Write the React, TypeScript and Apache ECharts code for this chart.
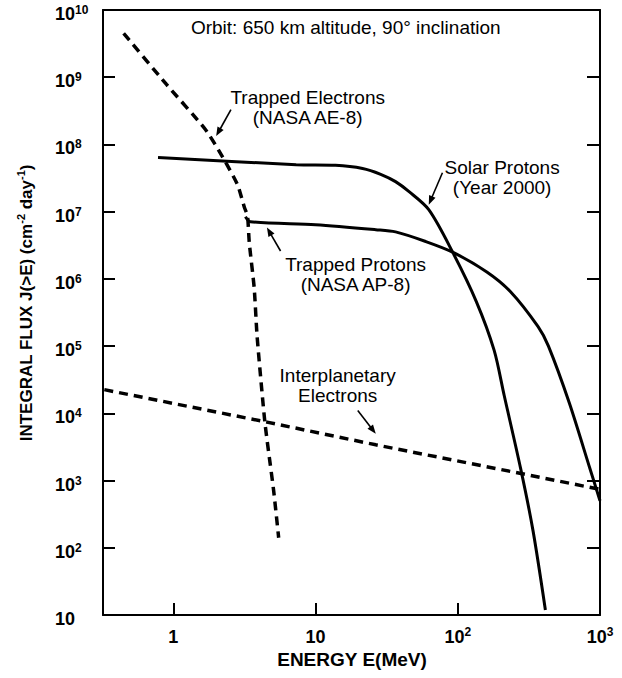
import React, { useEffect, useRef } from 'react';
import * as echarts from 'echarts';

const FONT = '"Liberation Sans", Arial, Helvetica, sans-serif';

// Tick values and labels ([base, exponent])
const xTickValues = [1, 10, 100, 1000];
const xTickLabels = [['1', ''], ['10', ''], ['10', '2'], ['10', '3']];
const yTickValues = [10, 1e2, 1e3, 1e4, 1e5, 1e6, 1e7, 1e8, 1e9, 1e10];
const yTickLabels = [
  ['10', ''], ['10', '2'], ['10', '3'], ['10', '4'], ['10', '5'],
  ['10', '6'], ['10', '7'], ['10', '8'], ['10', '9'], ['10', '10'],
];

// Trapped Electrons (NASA AE-8) — dashed
const trappedElectronsE = [0.447, 0.895, 1.68, 2.23, 2.83, 3.16, 3.32, 3.42, 3.7, 3.88, 4.4, 5.07, 5.5];
const trappedElectronsJ = [4.5e9, 7.8e8, 1.67e8, 6.4e7, 2.5e7, 1.15e7, 8.7e6, 3.4e6, 7.4e5, 1.4e5, 7.4e3, 710, 141];

// Solar Protons (Year 2000) — solid
const solarProtonsE = [0.78, 7.3, 13.8, 21.4, 28.7, 36.5, 45.2, 62.5, 92, 135, 180, 212, 277, 338, 413];
const solarProtonsJ = [6.4e7, 5.0e7, 4.9e7, 4.4e7, 3.6e7, 2.8e7, 2.0e7, 1.07e7, 2.5e6, 4.6e5, 8.7e4, 1.84e4, 1.49e3, 180, 11.9];

// Trapped Protons (NASA AP-8) — solid
const trappedProtonsE = [3.21, 3.48, 10, 26.5, 36.5, 59.5, 92, 160, 234, 367, 434, 607, 847, 1000];
const trappedProtonsJ = [8.4e6, 7.1e6, 6.4e6, 5.4e6, 5.0e6, 3.6e6, 2.5e6, 1.27e6, 6.5e5, 1.95e5, 1.0e5, 1.45e4, 1.54e3, 500];

// Interplanetary Electrons — dashed
const interplanetaryE = [0.327, 4.55, 26.5, 188, 1000];
const interplanetaryJ = [2.25e4, 7.4e3, 3.4e3, 1.5e3, 740];

// Annotations (data coordinates)
const annotationTexts = [
  'Orbit: 650 km altitude, 90° inclination',
  'Trapped Electrons\n(NASA AE-8)',
  'Solar Protons\n(Year 2000)',
  'Trapped Protons\n(NASA AP-8)',
  'Interplanetary\nElectrons',
];
const annotationE = [16.3, 8.8, 205, 19.1, 14.3];
const annotationJ = [5.5e9, 3.5e8, 3.2e7, 1.15e6, 2.6e4];

// Arrows: tail and head positions
const arrowTailE = [2.54, 78, 5.67, 19.8];
const arrowTailJ = [3.3e8, 3.8e7, 2.6e6, 1.1e4];
const arrowHeadE = [2.0, 62.5, 4.55, 26.5];
const arrowHeadJ = [1.33e8, 1.27e7, 5.8e6, 4.97e3];

const zip = (a: number[], b: number[]) => a.map((v, i) => [v, b[i]]);

const richX = {
  b: { fontSize: 18, fontWeight: 'bold', fontFamily: FONT, color: '#000', lineHeight: 22 },
  s: { fontSize: 12, fontWeight: 'bold', fontFamily: FONT, color: '#000', verticalAlign: 'top', lineHeight: 12 },
};
const richY = {
  b: { fontSize: 18, fontWeight: 'bold', fontFamily: FONT, color: '#000', lineHeight: 20 },
  s: { fontSize: 12, fontWeight: 'bold', fontFamily: FONT, color: '#000', verticalAlign: 'top', lineHeight: 10 },
};

const makeFormatter = (vals: number[], labels: string[][]) => (v: number) => {
  const lv = Math.log10(v);
  for (let i = 0; i < vals.length; i++) {
    if (Math.abs(Math.log10(vals[i]) - lv) < 1e-6) {
      const [b, e] = labels[i];
      return e ? `{b|${b}}{s|${e}}` : `{b|${b}}`;
    }
  }
  return '';
};

const axisLine = { show: true, lineStyle: { color: '#000', width: 2 } };

export default function App() {
  const ref = useRef<HTMLDivElement>(null);
  useEffect(() => {
    const chart = echarts.init(ref.current!, null, { renderer: 'svg' });
    const xMin = 0.32;
    const xMax = 1000;
    const yMin = 10;
    const yMax = 1e10;
    const lineSeries = (name: string, E: number[], J: number[], dashed: boolean, smooth: number) => ({
      name,
      type: 'line',
      data: zip(E, J),
      showSymbol: false,
      symbol: 'none',
      smooth,
      xAxisIndex: 0,
      yAxisIndex: 0,
      lineStyle: dashed
        ? { color: '#000', width: 3.5, type: [9, 6], cap: 'butt' }
        : { color: '#000', width: 3, type: 'solid' },
      emphasis: { disabled: true },
      silent: true,
    });
    chart.setOption({
      animation: false,
      backgroundColor: '#fff',
      grid: { left: 103, right: 22, top: 10, bottom: 63, outerBoundsMode: 'none', containLabel: false },
      xAxis: [
        {
          type: 'log', logBase: 10, min: xMin, max: xMax, position: 'bottom',
          axisLine,
          axisTick: { show: true, inside: true, length: 12, lineStyle: { color: '#000', width: 2 } },
          minorTick: { show: false },
          splitLine: { show: false },
          axisLabel: {
            show: true, margin: 11, showMinLabel: true, showMaxLabel: true,
            formatter: makeFormatter(xTickValues, xTickLabels), rich: richX,
          },
        },
        {
          type: 'log', logBase: 10, min: xMin, max: xMax, position: 'top',
          axisLine, axisTick: { show: false }, axisLabel: { show: false }, splitLine: { show: false },
        },
      ],
      yAxis: [
        {
          type: 'log', logBase: 10, min: yMin, max: yMax, position: 'left',
          axisLine,
          axisTick: { show: true, inside: true, length: 12, lineStyle: { color: '#000', width: 2 } },
          splitLine: { show: false },
          axisLabel: {
            show: true, margin: 48, align: 'left', showMinLabel: true, showMaxLabel: true,
            padding: [8, 0, 0, 0],
            formatter: makeFormatter(yTickValues, yTickLabels), rich: richY,
          },
        },
        {
          type: 'log', logBase: 10, min: yMin, max: yMax, position: 'right',
          axisLine,
          axisTick: { show: true, inside: true, length: 13, lineStyle: { color: '#000', width: 2 } },
          axisLabel: { show: false }, splitLine: { show: false },
        },
      ],
      series: [
        lineSeries('Trapped Electrons', trappedElectronsE, trappedElectronsJ, true, 0.2),
        lineSeries('Solar Protons', solarProtonsE, solarProtonsJ, false, 0.3),
        lineSeries('Trapped Protons', trappedProtonsE, trappedProtonsJ, false, 0.3),
        lineSeries('Interplanetary Electrons', interplanetaryE, interplanetaryJ, true, 0),
      ],
    });

    const toPx = (p: number[]) => chart.convertToPixel({ gridIndex: 0 }, p) as number[];
    const graphics: any[] = [];
    annotationTexts.forEach((t, i) => {
      const [px, py] = toPx([annotationE[i], annotationJ[i]]);
      graphics.push({
        type: 'text', x: px, y: py, silent: true,
        style: {
          text: t, fill: '#000', fontSize: 19, fontFamily: FONT, lineHeight: 20,
          align: 'center', verticalAlign: 'middle',
        },
      });
    });
    arrowTailE.forEach((_, i) => {
      const [tx, ty] = toPx([arrowTailE[i], arrowTailJ[i]]);
      const [hx, hy] = toPx([arrowHeadE[i], arrowHeadJ[i]]);
      const dx = hx - tx, dy = hy - ty;
      const len = Math.sqrt(dx * dx + dy * dy);
      const ux = dx / len, uy = dy / len;
      const nx = -uy, ny = ux;
      const ah = 9, aw = 3.5;
      const bx = hx - ux * ah, by = hy - uy * ah;
      graphics.push({
        type: 'line', silent: true,
        shape: { x1: tx, y1: ty, x2: bx + ux * 2, y2: by + uy * 2 },
        style: { stroke: '#000', lineWidth: 1.6 },
      });
      graphics.push({
        type: 'polygon', silent: true,
        shape: { points: [[hx, hy], [bx + nx * aw, by + ny * aw], [bx - nx * aw, by - ny * aw]] },
        style: { fill: '#000' },
      });
    });
    // Axis titles
    graphics.push({
      type: 'text', x: 352, y: 659, silent: true,
      style: {
        text: 'ENERGY E(MeV)', fill: '#000', fontSize: 19, fontWeight: 'bold', fontFamily: FONT,
        align: 'center', verticalAlign: 'middle',
      },
    });
    graphics.push({
      type: 'text', x: 26, y: 303, rotation: Math.PI / 2, silent: true,
      style: {
        text: '{b|INTEGRAL FLUX J(>E) (cm}{s|-2}{b| day}{s|-1}{b|)}',
        align: 'center', verticalAlign: 'middle',
        rich: {
          b: { fontSize: 17, fontWeight: 'bold', fontFamily: FONT, fill: '#000', lineHeight: 22 },
          s: { fontSize: 11, fontWeight: 'bold', fontFamily: FONT, fill: '#000', verticalAlign: 'top', lineHeight: 13 },
        },
      },
    });
    chart.setOption({ graphic: graphics });
    return () => chart.dispose();
  }, []);
  return (
    <div
      ref={ref}
      style={{ position: 'absolute', left: 0, top: 0, width: 622, height: 678, background: '#fff' }}
    />
  );
}
